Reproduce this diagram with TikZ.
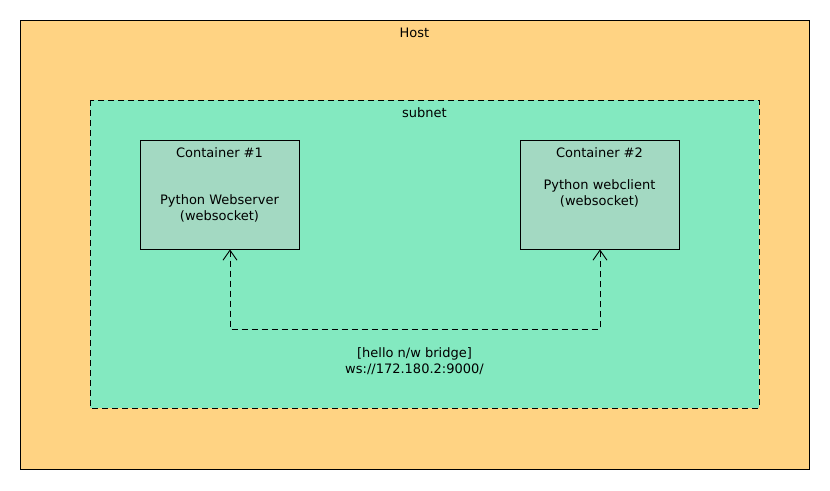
\documentclass[tikz,border=0pt]{standalone}
\usepackage{fontspec}
\setmainfont{DejaVu Sans}
\usetikzlibrary{arrows.meta, positioning}
\definecolor{hostfill}{HTML}{FFD383}
\definecolor{netfill}{HTML}{83E9C0}
\definecolor{boxfill}{HTML}{A3D9C2}
\tikzset{
    >={Straight Barb[length=10pt, width=14pt]},
    cbox/.style={draw, fill=boxfill, minimum width=159pt, minimum height=109pt, inner sep=0pt, line width=0.9pt},
    dashline/.style={dash pattern=on 6pt off 4pt, line width=0.9pt}
}
\begin{document}
\begin{tikzpicture}[x=1pt, y=-1pt, font=\fontsize{13}{16}\selectfont]
    \useasboundingbox (0,0) rectangle (830,490);
    \draw[fill=hostfill, line width=1pt] (20,20) rectangle (809,469);
    \draw[fill=netfill, dashline] (90,100) rectangle (759,408);
    \node (host) at (414.5, 33) {Host};
    \node (subnet) at (424.5, 113) {subnet};
    \node[cbox] (c1) at (219.5, 194.5) {};
    \node[cbox] (c2) at (599.5, 194.5) {};
    \node (t1) at (219.5, 153) {Container \#1};
    \node (t2) at (599.5, 153) {Container \#2};
    \node[align=center] (p1) at (219.5, 208) {Python Webserver\\(websocket)};
    \node[align=center] (p2) at (599.5, 193) {Python webclient\\(websocket)};
    \coordinate (bl) at (230, 329);
    \coordinate (br) at (600, 329);
    \draw[dashline, <->] (c1.south -| bl) -- (bl) -- (br) -- (c2.south -| br);
    \node[align=center] (link) at (414.5, 361) {[hello n/w bridge]\\ws://172.180.2:9000/};
\end{tikzpicture}
\end{document}
